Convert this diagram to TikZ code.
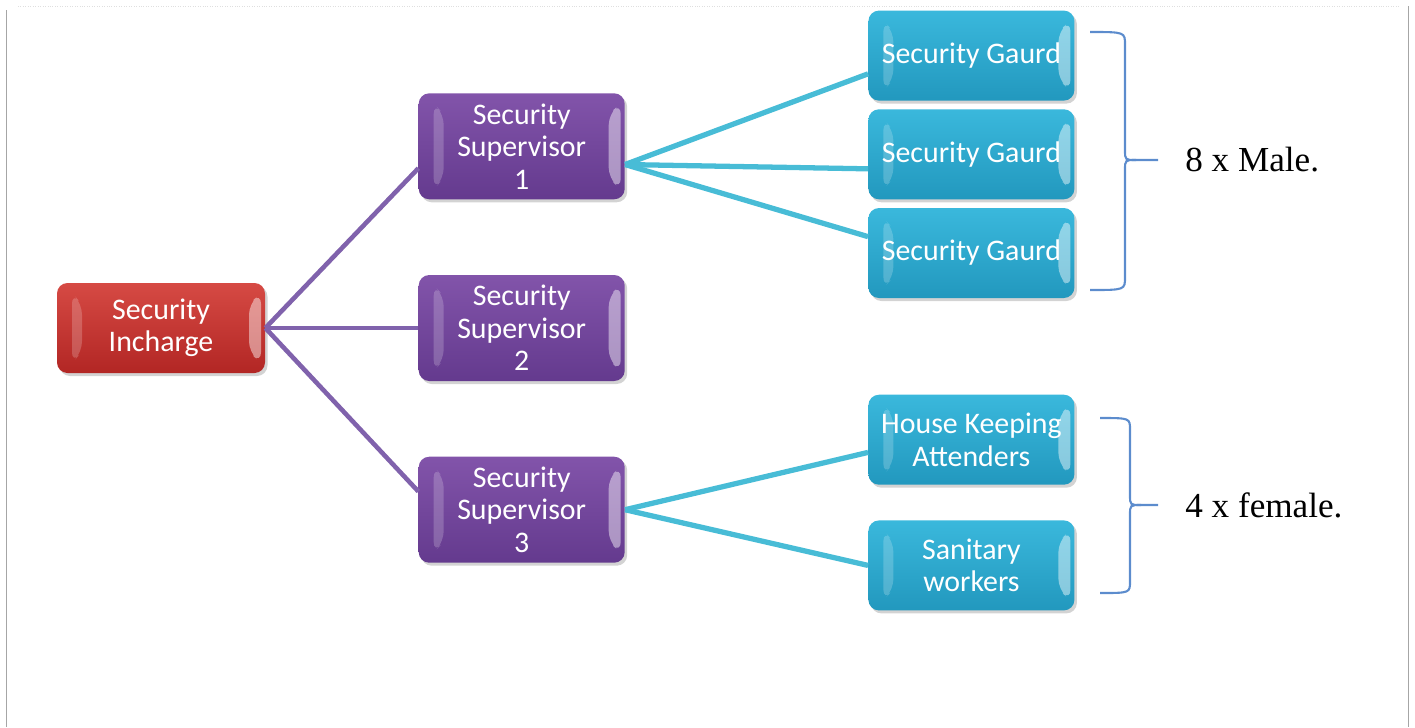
\documentclass[tikz,border=0pt]{standalone}
\usepackage{fontspec}
\setmainfont{Liberation Serif}
\newfontfamily\boxfont{Carlito}
\usepackage{tikz}
\usetikzlibrary{positioning}
\usetikzlibrary{calc}
\usetikzlibrary{shadows}
\definecolor{redA}{RGB}{214,74,68}
\definecolor{redB}{RGB}{178,38,36}
\definecolor{purA}{RGB}{130,84,170}
\definecolor{purB}{RGB}{100,58,142}
\definecolor{cyaA}{RGB}{58,184,220}
\definecolor{cyaB}{RGB}{34,152,190}
\definecolor{purLine}{RGB}{128,98,172}
\definecolor{cyaLine}{RGB}{72,188,214}
\definecolor{braceBlue}{RGB}{92,140,205}
\tikzstyle{box} = [rectangle,rounded corners=6pt,minimum width=4.12cm,minimum height=1.8cm,
  text=white,align=center,inner sep=1pt,font=\boxfont\fontsize{17}{18.5}\selectfont,
  drop shadow={opacity=0.35,shadow xshift=0.05cm,shadow yshift=-0.06cm},
  path picture={
    \path (path picture bounding box.north west) coordinate (pnw)
          (path picture bounding box.south east) coordinate (pse);
    \fill[white,opacity=.2] ($(pnw)+(0.3,-0.2)$) -- ($(pnw)+(0.5,-0.42)$)
      -- ($(pnw|-pse)+(0.5,0.42)$) -- ($(pnw|-pse)+(0.3,0.2)$) -- cycle;
    \fill[white,opacity=.45] ($(pse|-pnw)+(-0.08,-0.2)$) -- ($(pse|-pnw)+(-0.32,-0.42)$)
      -- ($(pse)+(-0.32,0.42)$) -- ($(pse)+(-0.08,0.2)$) -- cycle;
  }]
\tikzstyle{boss} = [box,minimum width=4.16cm,top color=redA,bottom color=redB]
\tikzstyle{sup} = [box,minimum height=2.12cm,top color=purA,bottom color=purB]
\tikzstyle{staff} = [box,top color=cyaA,bottom color=cyaB]
\tikzstyle{P} = [purLine,line width=2.6pt]
\tikzstyle{C} = [cyaLine,line width=3pt]
\tikzstyle{bracket} = [braceBlue,line width=1.2pt]
\tikzstyle{count} = [inner sep=0pt,anchor=west,font=\fontsize{20}{24}\selectfont]

\begin{document}
\begin{tikzpicture}
  \useasboundingbox (0,0) rectangle (28.3,-14.54);
  \draw[gray!25,densely dotted] (0.36,-0.12) -- (28.0,-0.12);
  \draw[gray!70] (0.12,-0.2) -- (0.12,-14.54);
  \draw[gray!70] (28.16,-0.12) -- (28.16,-14.54);

  \node [boss] at (3.22,-6.56) (inc) {Security\\Incharge};
  \node [sup,right=3.06cm of inc] (s2) {Security\\Supervisor\\2};
  \node [sup,above=1.5cm of s2] (s1) {Security\\Supervisor\\1};
  \node [sup,below=1.5cm of s2] (s3) {Security\\Supervisor\\3};

  \node [staff,right=4.86cm of s1,yshift=-0.16cm] (g2) {Security Gaurd};
  \node [staff,above=0.16cm of g2] (g1) {Security Gaurd};
  \node [staff,below=0.16cm of g2] (g3) {Security Gaurd};

  \node [staff,right=4.86cm of s3,yshift=1.4cm] (hk) {House Keeping\\Attenders};
  \node [staff,below=0.7cm of hk] (sw) {Sanitary\\workers};

	\draw [P] (inc.east) -- (s1.192) ;
	\draw [P] (inc.east) -- (s2.west) ;
	\draw [P] (inc.east) -- (s3.170) ;
	\draw [C] (s1.-10) -- (g1.190) ;
	\draw [C] (s1.-10) -- (g2.188) ;
	\draw [C] (s1.-10) -- (g3.171) ;
	\draw [C] (s3.east) -- (hk.187) ;
	\draw [C] (s3.east) -- (sw.west) ;

  \coordinate (m) at (23.16,-3.2);
  \coordinate (f) at (23.16,-10.1);
	\draw [bracket] (21.8,-0.64) .. controls (22.5,-0.64) .. (22.5,-0.9) -- (22.5,-3.0)
	  .. controls (22.5,-3.2) .. (22.72,-3.2) -- (m);
	\draw [bracket] (21.8,-5.8) .. controls (22.5,-5.8) .. (22.5,-5.54) -- (22.5,-3.4)
	  .. controls (22.5,-3.2) .. (22.72,-3.2);
	\draw [bracket] (22.0,-8.36) .. controls (22.6,-8.36) .. (22.6,-8.6) -- (22.6,-9.9)
	  .. controls (22.6,-10.1) .. (22.82,-10.1) -- (f);
	\draw [bracket] (22.0,-11.86) .. controls (22.6,-11.86) .. (22.6,-11.62) -- (22.6,-10.3)
	  .. controls (22.6,-10.1) .. (22.82,-10.1);
  \node [count,right=0.54cm of m] (male) {8 x Male.};
  \node [count,right=0.54cm of f] (female) {4 x female.};
\end{tikzpicture}
\end{document}
